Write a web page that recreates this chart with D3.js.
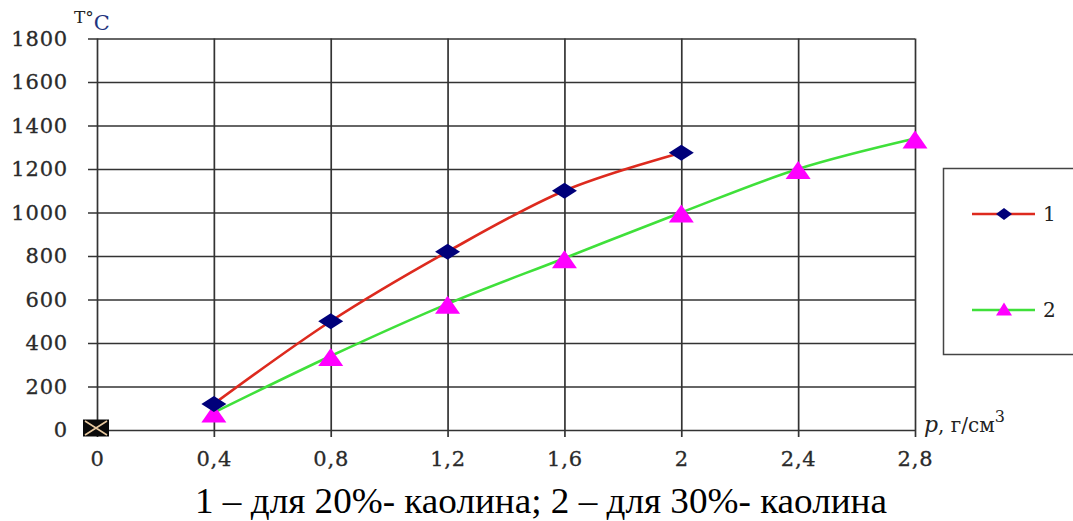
<!DOCTYPE html>
<html>
<head>
<meta charset="utf-8">
<script src="https://cdn.jsdelivr.net/npm/d3@7"></script>
<style>
  body { margin: 0; background: #fff; }
  svg { display: block; }
</style>
</head>
<body>
<div id="svg_container"></div>
<script>
/* -----------------------
data
------------------------- */

var xTicks = [0, 0.4, 0.8, 1.2, 1.6, 2, 2.4, 2.8];
var yTicks = [0, 200, 400, 600, 800, 1000, 1200, 1400, 1600, 1800];

var density1 = [0.4, 0.8, 1.2, 1.6, 2];
var temp1 = [120, 500, 820, 1100, 1275];

var density2 = [0.4, 0.8, 1.2, 1.6, 2, 2.4, 2.8];
var temp2 = [80, 340, 580, 790, 1000, 1200, 1340];

var originX = [0];
var originY = [0];

var legendNames = ["1", "2"];
var caption = "1 \u2013 для 20%- каолина; 2 \u2013 для 30%- каолина";

/* -----------------------
main variables
------------------------- */

var width = 1073;
var height = 521;

var svg = d3.select("#svg_container")
  .append("svg")
  .attr("width", width)
  .attr("height", height);

var x = d3.scaleLinear().domain([0, 2.8]).range([97, 915]);
var y = d3.scaleLinear().domain([0, 1800]).range([430, 38.5]);

var gridColor = "#333";
var textColor = "#2a2a2a";
var tickFont = "DejaVu Serif, serif";

/* -----------------------
grid / axes
------------------------- */

var yAxis = d3.axisLeft(y)
  .tickValues(yTicks)
  .tickFormat(d3.format("d"))
  .tickSizeInner(-(915 - 88))
  .tickSizeOuter(0)
  .tickPadding(20);

var gy = svg.append("g")
  .attr("transform", "translate(88,0)")
  .call(yAxis);

gy.select(".domain").remove();
gy.selectAll("line").attr("stroke", gridColor).attr("stroke-width", 1.7);
gy.selectAll("text")
  .attr("fill", textColor)
  .attr("stroke", textColor)
  .attr("stroke-width", 0.3)
  .style("font-family", tickFont)
  .style("font-size", "21px")
  .style("letter-spacing", "0.8px");

var xAxis = d3.axisBottom(x)
  .tickValues(xTicks)
  .tickFormat(function (d) { return String(d).replace(".", ","); })
  .tickSizeInner(-(437 - 38.5))
  .tickSizeOuter(0)
  .tickPadding(14);

var gx = svg.append("g")
  .attr("transform", "translate(0,437)")
  .call(xAxis);

gx.select(".domain").remove();
gx.selectAll("line").attr("stroke", gridColor).attr("stroke-width", 1.7);
gx.selectAll("text")
  .attr("fill", textColor)
  .attr("stroke", textColor)
  .attr("stroke-width", 0.3)
  .style("font-family", tickFont)
  .style("font-size", "21px")
  .style("letter-spacing", "0.8px");

/* -----------------------
axis titles
------------------------- */

var ttl = svg.append("text")
  .style("font-family", tickFont)
  .attr("x", 74)
  .attr("y", 23);
ttl.append("tspan").attr("font-size", 17).attr("fill", "#222").text("T\u00b0");
ttl.append("tspan").attr("font-size", 21).attr("dy", 7).attr("fill", "#1f3580").text("C");

var xt = svg.append("text")
  .style("font-family", tickFont)
  .attr("x", 924)
  .attr("y", 432)
  .attr("fill", "#222");
xt.append("tspan").attr("font-size", 22).attr("font-style", "italic").text("p");
xt.append("tspan").attr("font-size", 20).text(", г/см");
xt.append("tspan").attr("font-size", 16).attr("dy", -10).text("3");

/* -----------------------
lines
------------------------- */

var line = d3.line()
  .x(function (d) { return x(d[0]); })
  .y(function (d) { return y(d[1]); })
  .curve(d3.curveCatmullRom.alpha(0));

var s1 = d3.zip(density1, temp1);
var s2 = d3.zip(density2, temp2);

svg.append("path")
  .datum(s2)
  .attr("d", line)
  .attr("fill", "none")
  .attr("stroke", "#3fe03a")
  .attr("stroke-width", 2.6);

svg.append("path")
  .datum(s1)
  .attr("d", line)
  .attr("fill", "none")
  .attr("stroke", "#dd2a1e")
  .attr("stroke-width", 2.6);

function diamond(g, cx, cy, w, h) {
  g.append("path")
    .attr("d", "M" + (cx - w / 2) + "," + cy + "L" + cx + "," + (cy - h / 2) +
      "L" + (cx + w / 2) + "," + cy + "L" + cx + "," + (cy + h / 2) + "Z")
    .attr("fill", "#00007a");
}

function triangle(g, cx, cy, w, h) {
  g.append("path")
    .attr("d", "M" + (cx - w / 2) + "," + (cy + h / 2) + "L" + cx + "," + (cy - h / 2) +
      "L" + (cx + w / 2) + "," + (cy + h / 2) + "Z")
    .attr("fill", "#ff00ff");
}

var marks = svg.append("g");

s2.forEach(function (d) {
  triangle(marks, x(d[0]), y(d[1]) + 1, 25, 18);
});
s1.forEach(function (d) {
  diamond(marks, x(d[0]), y(d[1]), 25, 16);
});

// origin marker
d3.zip(originX, originY).forEach(function (d) {
  var cx = x(d[0]) - 1, cy = y(d[1]) - 2;
  marks.append("rect")
    .attr("x", cx - 13).attr("y", cy - 8.5)
    .attr("width", 26).attr("height", 17)
    .attr("fill", "#0a0a0a");
  marks.append("path")
    .attr("d", "M" + (cx - 11) + "," + (cy - 7) + "L" + (cx + 11) + "," + (cy + 7) +
      "M" + (cx + 11) + "," + (cy - 7) + "L" + (cx - 11) + "," + (cy + 7))
    .attr("stroke", "#e8c9a0")
    .attr("stroke-width", 1.6);
});

/* -----------------------
legend
------------------------- */

svg.append("rect")
  .attr("x", 943.5).attr("y", 168.5)
  .attr("width", 160).attr("height", 186)
  .attr("fill", "#fff")
  .attr("stroke", "#444")
  .attr("stroke-width", 1.5);

var legendY = [214, 310];
var legendColors = ["#dd2a1e", "#3fe03a"];

legendNames.forEach(function (name, i) {
  var ly = legendY[i];
  svg.append("line")
    .attr("x1", 972).attr("x2", 1035)
    .attr("y1", ly).attr("y2", ly)
    .attr("stroke", legendColors[i])
    .attr("stroke-width", 2.6);
  if (i === 0) diamond(svg, 1004, ly, 16, 12);
  else triangle(svg, 1004, ly - 1, 16, 13);
  svg.append("text")
    .attr("x", 1043).attr("y", ly + 7)
    .attr("fill", "#222")
    .style("font-family", tickFont)
    .style("font-size", "20px")
    .text(name);
});

/* -----------------------
caption
------------------------- */

svg.append("text")
  .attr("x", 195)
  .attr("y", 513)
  .attr("fill", "#000")
  .style("font-family", "Liberation Serif, Times New Roman, serif")
  .style("font-size", "35px")
  .attr("textLength", 692)
  .attr("lengthAdjust", "spacingAndGlyphs")
  .text(caption);
</script>
</body>
</html>
